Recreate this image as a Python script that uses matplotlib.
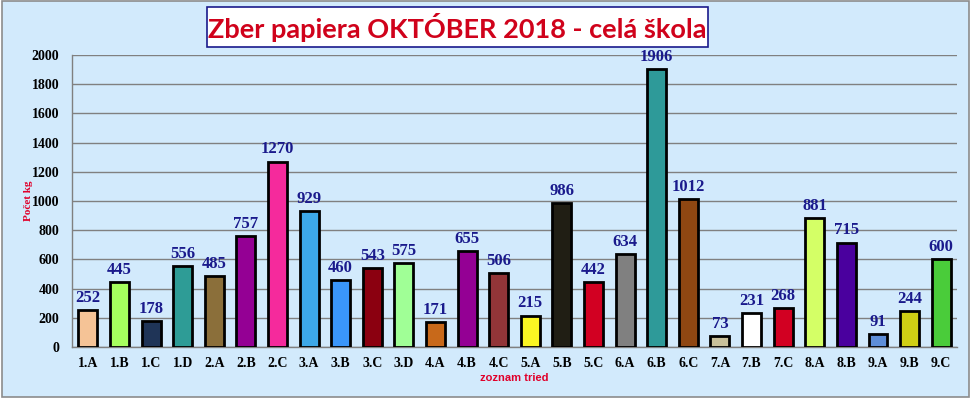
import matplotlib
matplotlib.use('Agg')
import matplotlib.pyplot as plt
from matplotlib.patches import Rectangle

# data
tried = ['1.A', '1.B', '1.C', '1.D', '2.A', '2.B', '2.C', '3.A', '3.B', '3.C',
         '3.D', '4.A', '4.B', '4.C', '5.A', '5.B', '5.C', '6.A', '6.B', '6.C',
         '7.A', '7.B', '7.C', '8.A', '8.B', '9.A', '9.B', '9.C']
kg = [252, 445, 178, 556, 485, 757, 1270, 929, 460, 543,
      575, 171, 655, 506, 215, 986, 442, 634, 1906, 1012,
      73, 231, 268, 881, 715, 91, 244, 600]
farby = ['#F5C396', '#A6FF5E', '#1F3457', '#2E9C96', '#8B6F3A', '#940094', '#F52A9C',
         '#3DA8E8', '#3A96FA', '#8B0010', '#A0FF96', '#C8691A', '#940094', '#923538',
         '#FAF623', '#201E14', '#D20022', '#808080', '#2E9A99', '#8F4712',
         '#C8C09A', '#FFFFFF', '#D20022', '#D4FF66', '#4A009E', '#5E8ED8',
         '#CFCF14', '#4ACC3A']
yticks = [0, 200, 400, 600, 800, 1000, 1200, 1400, 1600, 1800, 2000]

W, H = 972, 399
fig = plt.figure(figsize=(W / 100, H / 100), dpi=100)
fig.patch.set_facecolor('white')

# pozadie grafu (chart area)
fig.patches.append(Rectangle((2 / W, 1 - 397 / H), 967 / W, 396 / H,
                             transform=fig.transFigure, facecolor='#D2EAFC',
                             edgecolor='#8C8C8C', linewidth=1.2, zorder=-1))

ax = fig.add_axes([72 / W, 1 - 347 / H, 885 / W, 292 / H])
ax.set_zorder(1)
ax.set_facecolor('none')

x = range(len(tried))
ax.bar(x, kg, width=0.6, color=farby, edgecolor='black', linewidth=2, zorder=3)

for i, v in zip(x, kg):
    ax.annotate(str(v), (i, v), xytext=(0, 3), textcoords='offset points',
                ha='center', va='bottom', fontsize=12, fontweight='bold',
                family='Liberation Serif', color='#1A1A8C', zorder=4)

ax.set_xlim(-0.5, len(tried) - 0.5)
ax.set_ylim(0, 2000)
ax.set_yticks(yticks)
ax.set_xticks(list(x))
ax.set_xticklabels(tried)
ax.grid(axis='y', color='#808080', linewidth=1, zorder=1)
ax.tick_params(length=0, labelsize=10)
ax.tick_params(axis='y', pad=9)
ax.tick_params(axis='x', pad=7)
for lab in ax.get_xticklabels() + ax.get_yticklabels():
    lab.set_fontfamily('Liberation Serif')
    lab.set_fontweight('bold')

for s in ['top', 'right']:
    ax.spines[s].set_visible(False)
for s in ['left', 'bottom']:
    ax.spines[s].set_color('#808080')
    ax.spines[s].set_linewidth(1)

ax.set_ylabel('Počet kg', family='Liberation Serif', fontweight='bold',
              fontsize=8, color='#E0002A')
ax.yaxis.set_label_coords(-39 / 885, 0.5)
ax.set_xlabel('zoznam tried', family='Liberation Sans', fontweight='bold',
              fontsize=8, color='#E0002A')
ax.xaxis.set_label_coords(0.5, -26 / 292)

# nadpis v ramceku
fig.patches.append(Rectangle((207 / W, 1 - 47 / H), 501 / W, 40 / H,
                             transform=fig.transFigure, facecolor='white',
                             edgecolor='#1A1A8C', linewidth=1.2, zorder=2))
fig.text(457.5 / W, 1 - 28 / H, 'Zber papiera OKTÓBER 2018 - celá škola',
         ha='center', va='center', fontsize=19.5, fontweight='bold',
         family='Lato', color='#D0021B', zorder=3)

fig.savefig('out.png', dpi=100)
